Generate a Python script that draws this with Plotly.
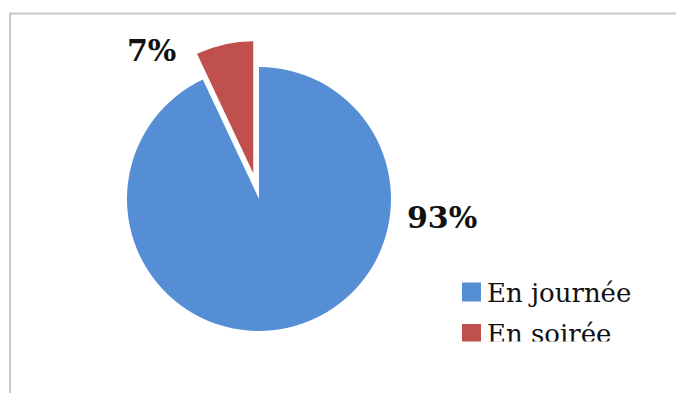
import plotly.graph_objects as go

# Share of events by time of day
categories = ["En journée", "En soirée"]
values = [93, 7]
colors = ["#558ED5", "#C0504D"]
pulls = [0, 0.2]

W, H = 676, 393


def px(x):
    return x / W


def py(y):
    return 1 - y / H


fig = go.Figure()

fig.add_trace(
    go.Pie(
        labels=categories,
        values=values,
        sort=False,
        direction="clockwise",
        rotation=0,
        pull=pulls,
        marker=dict(colors=colors, line=dict(width=0)),
        textinfo="none",
        hoverinfo="label+percent",
        showlegend=False,
        domain=dict(x=[px(100.6), px(417.4)], y=[py(357.4), py(40.6)]),
    )
)

# Legend drawn in a small hidden cartesian box so that the frame's
# bottom edge cuts the second entry, as in the printed chart.
box_x = [440, 676]
box_y = [341.5, 268]
row_y = [292, 333.5]
text_shift = 3
fig.add_trace(
    go.Scatter(
        x=[471.5] * len(categories), y=row_y,
        mode="markers",
        marker=dict(symbol="square", size=19, color=colors, line=dict(width=0)),
        hoverinfo="skip", showlegend=False, cliponaxis=True,
    )
)
fig.add_trace(
    go.Scatter(
        x=[487] * len(categories), y=[r + text_shift for r in row_y],
        mode="text", text=categories, textposition="middle right",
        textfont=dict(family="DejaVu Serif, serif", size=26, color="#111111"),
        hoverinfo="skip", showlegend=False, cliponaxis=True,
    )
)

pct_font = dict(family="DejaVu Serif, serif", size=30, color="#111111")
annotations = []
pct_pos = [(442, 217), (151, 50)]
for v, (x, y) in zip(values, pct_pos):
    annotations.append(
        dict(
            x=px(x), y=py(y), xref="paper", yref="paper",
            text=f"<b>{v}%</b>", showarrow=False, font=pct_font,
            xanchor="center", yanchor="middle",
        )
    )

# chart frame (left and top edges)
frame = "#C8C8C8"
shapes = [
    dict(type="line", xref="paper", yref="paper",
         x0=px(10), x1=px(10), y0=0, y1=py(13.5),
         line=dict(color=frame, width=2)),
    dict(type="line", xref="paper", yref="paper",
         x0=px(9), x1=px(676), y0=py(13.5), y1=py(13.5),
         line=dict(color=frame, width=2)),
]

fig.update_layout(
    width=W, height=H,
    margin=dict(l=0, r=0, t=0, b=0),
    paper_bgcolor="white",
    plot_bgcolor="rgba(0,0,0,0)",
    annotations=annotations,
    shapes=shapes,
    xaxis=dict(domain=[px(box_x[0]), px(box_x[1])], range=box_x,
               visible=False, fixedrange=True),
    yaxis=dict(domain=[py(box_y[0]), py(box_y[1])], range=box_y,
               visible=False, fixedrange=True),
)

fig.write_html("out.html")
